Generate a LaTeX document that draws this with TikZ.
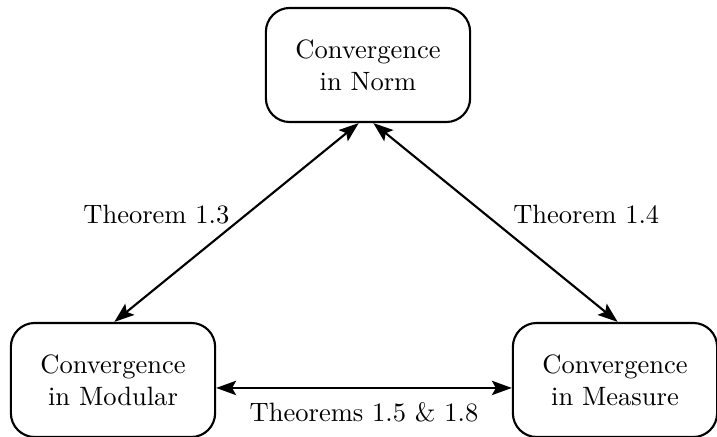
\documentclass[tikz,border=0pt]{standalone}
\usepackage{amsmath,amssymb}
\usepackage{tikz}
\usetikzlibrary{arrows.meta,positioning,calc}
\tikzset{
  conv/.style  ={draw,line width=0.8pt,rounded corners=9pt,align=center,minimum width=77pt,minimum height=43pt,inner sep=3pt},
  both/.style  ={{Stealth[length=7.5pt,width=5.4pt,inset=1.5pt]}-{Stealth[length=7.5pt,width=5.4pt,inset=1.5pt]},line width=0.8pt},
  lbl/.style   ={inner sep=1pt},
}

\begin{document}
\begin{tikzpicture}[x=0.377pt,y=-0.377pt]
  \useasboundingbox (0,0) rectangle (717,437);
  \node[conv] (norm) at (368,65) {Convergence\\in Norm};
  \node[conv] (modular) at (113,380) {Convergence\\in Modular};
  \node[conv] (measure) at (615,380) {Convergence\\in Measure};
  \draw[both] ([xshift=-3.5pt]norm.south) -- node[lbl,pos=0.46,left=5pt]{Theorem 1.3} ([xshift=0.5pt]modular.north);
  \draw[both] ([xshift=2pt]norm.south) -- node[lbl,pos=0.46,right=9pt]{Theorem 1.4} ([xshift=1pt]measure.north);
  \draw[both] ([yshift=-3pt]modular.east) -- node[lbl,below=4pt]{Theorems 1.5 \& 1.8} ([yshift=-3pt]measure.west);
\end{tikzpicture}
\end{document}
